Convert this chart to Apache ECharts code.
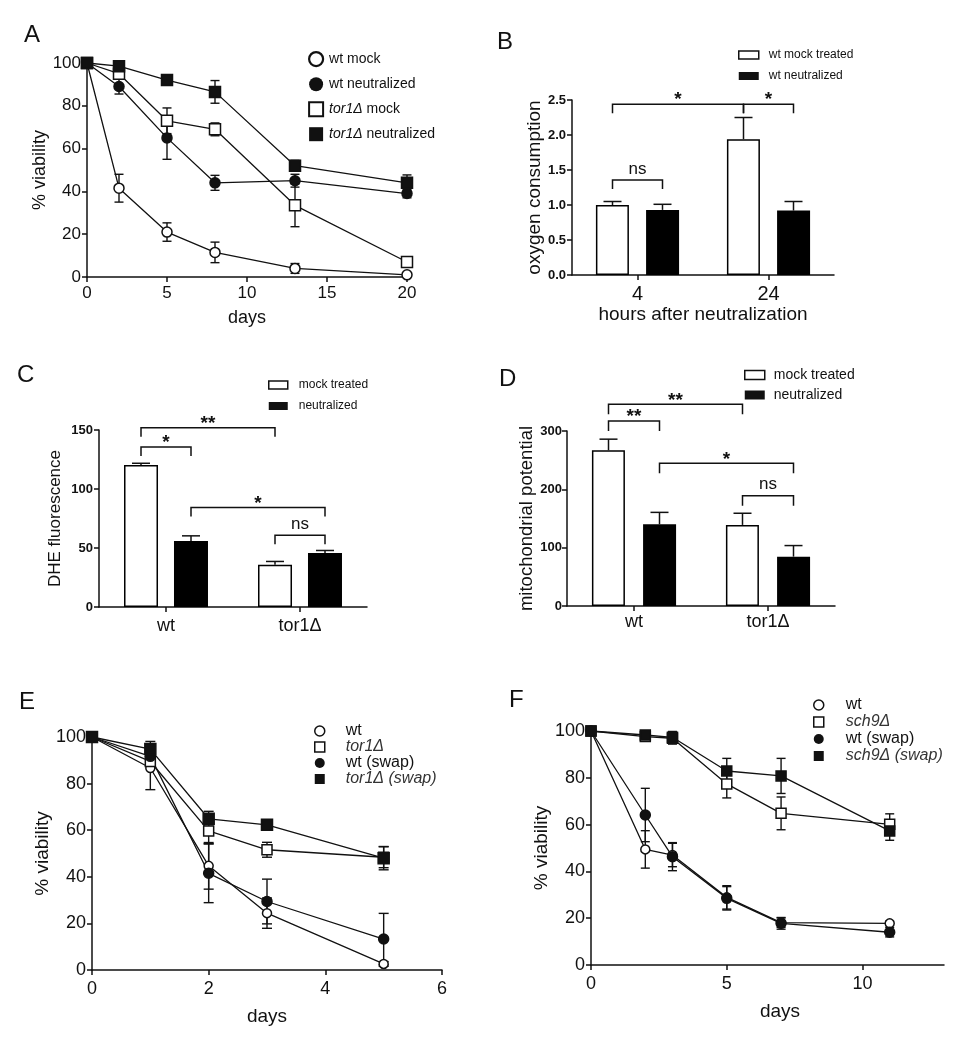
<!DOCTYPE html>
<html><head><meta charset="utf-8">
<script src="https://cdn.jsdelivr.net/npm/echarts@6/dist/echarts.min.js"></script>
<style>html,body{margin:0;padding:0;background:#fff}#c{width:964px;height:1050px}</style>
</head><body><div id="c"></div>
<script>
// ---------- Panel A ----------
const aDays = [0, 2, 5, 8, 13, 20];
const aWtMock = [100, 41.5, 21, 11.5, 4, 1];
const aWtMockErr = [0, 6.5, 4.3, 4.8, 2.3, 0.5];
const aWtNeut = [100, 89, 65, 44, 45, 39];
const aWtNeutErr = [0, 3.5, 10, 3.5, 3, 2];
const aTorMock = [100, 95, 73, 69, 33.5, 7];
const aTorMockErr = [0, 2.5, 6, 3, 10, 1.5];
const aTorNeut = [100, 98.5, 92, 86.5, 52, 44];
const aTorNeutErr = [0, 1, 1, 5.3, 2.5, 3.7];
// ---------- Panel B ----------
const bCats = ['4', '24'];
const bMock = [1.0, 1.94];
const bMockErr = [0.05, 0.31];
const bNeut = [0.93, 0.92];
const bNeutErr = [0.08, 0.13];
const bBrackets = [
  {a: [0, -1], b: [1, -1], y: 2.44, t: '*'},
  {a: [1, -1], b: [1, 1], y: 2.44, t: '*'},
  {a: [0, -1], b: [0, 1], y: 1.357, t: 'ns'}
];
// ---------- Panel C ----------
const cCats = ['wt', 'tor1Δ'];
const cMock = [120.4, 35.8];
const cMockErr = [1.4, 2.8];
const cNeut = [56, 45.7];
const cNeutErr = [4.3, 2.2];
const cBrackets = [
  {a: [0, -1], b: [1, -1], y: 152, t: '**'},
  {a: [0, -1], b: [0, 1], y: 135.6, t: '*'},
  {a: [0, 1], b: [1, 1], y: 84.3, t: '*'},
  {a: [1, -1], b: [1, 1], y: 60.9, t: 'ns'}
];
// ---------- Panel D ----------
const dCats = ['wt', 'tor1Δ'];
const dMock = [267, 139];
const dMockErr = [19, 20];
const dNeut = [140, 84.6];
const dNeutErr = [20.5, 19];
const dBrackets = [
  {a: [0, -1], b: [1, -1], y: 345.7, t: '**'},
  {a: [0, -1], b: [0, 1], y: 317, t: '**'},
  {a: [0, 1], b: [1, 1], y: 244.6, t: '*'},
  {a: [1, -1], b: [1, 1], y: 189, t: 'ns'}
];
// ---------- Panel E ----------
const eDays = [0, 1, 2, 3, 5];
const eWt = [100, 86.7, 44.7, 24.4, 2.6];
const eWtErr = [0, 9.3, 10, 6.5, 1];
const eTor = [100, 89.5, 59.7, 51.6, 48.4];
const eTorErr = [0, 2, 5.5, 3.2, 4.5];
const eWtSwap = [100, 91.7, 41.5, 29.4, 13.3];
const eWtSwapErr = [0, 3, 12.6, 9.6, 11];
const eTorSwap = [100, 94.8, 64.9, 62.3, 48];
const eTorSwapErr = [0, 3.3, 3.2, 2, 5];
// ---------- Panel F ----------
const fDays = [0, 2, 3, 5, 7, 11];
const fWt = [100, 49.4, 47, 28.9, 18.1, 17.8];
const fWtErr = [0, 8, 5, 5, 2, 1];
const fSch = [100, 97.6, 96.9, 77.4, 64.8, 60.1];
const fSchErr = [0, 2, 2.5, 6, 7, 4.5];
const fWtSwap = [100, 64.1, 46.3, 28.5, 17.8, 14];
const fWtSwapErr = [0, 11.4, 6, 5, 2.5, 2];
const fSchSwap = [100, 98.3, 97.3, 82.9, 80.8, 57.3];
const fSchSwapErr = [0, 1.5, 2.5, 5.4, 7.5, 4];

const FONT = '"Liberation Sans", Arial, Helvetica, sans-serif';
const INK = '#111';

function axis(o) {
  const ax = {
    type: o.type || 'value', gridIndex: o.grid,
    axisLine: {show: true, onZero: false, lineStyle: {color: INK, width: 1.5}},
    axisTick: {show: true, length: 5, lineStyle: {color: INK, width: 1.5}},
    splitLine: {show: false},
    axisLabel: {color: INK, fontFamily: FONT, fontSize: o.ls || 17, fontWeight: o.lb ? 'bold' : 'normal', margin: o.lm == null ? 6 : o.lm},
    nameLocation: 'middle', name: o.name || '', nameGap: o.ng || 30,
    nameTextStyle: {color: INK, fontFamily: FONT, fontSize: o.ns || 18, padding: o.np || 0}
  };
  if (ax.type === 'value') { ax.min = o.min; ax.max = o.max; ax.interval = o.interval; }
  else { ax.data = o.data; ax.boundaryGap = true; ax.axisTick.alignWithLabel = true; }
  if (o.fmt) ax.axisLabel.formatter = o.fmt;
  if (o.cv) { ax.axisLabel.customValues = o.cv; ax.axisTick.customValues = o.cv; }
  return ax;
}

function lineSeries(g, name, xs, ys, sym, filled, size) {
  return {type: 'line', name, xAxisIndex: g, yAxisIndex: g,
    data: xs.map((x, i) => [x, ys[i]]), symbol: sym, symbolSize: size,
    showSymbol: true, showAllSymbol: true,
    lineStyle: {color: INK, width: 1.3},
    itemStyle: {color: filled ? INK : '#fff', borderColor: INK, borderWidth: 1.5},
    emphasis: {disabled: true}, z: 3, animation: false, silent: true};
}

function errSeries(g, xs, ys, es, cap) {
  const pts = [];
  xs.forEach((x, i) => { if (es[i] > 0) pts.push([x, ys[i] - es[i], ys[i] + es[i]]); });
  return {type: 'custom', xAxisIndex: g, yAxisIndex: g, data: pts,
    encode: {x: 0, y: [1, 2]}, z: 2, silent: true, animation: false,
    renderItem(params, api) {
      const x = api.value(0);
      const lo = api.coord([x, api.value(1)]);
      const hi = api.coord([x, api.value(2)]);
      const h = cap / 2, st = {stroke: INK, lineWidth: 1.4};
      return {type: 'group', children: [
        {type: 'line', shape: {x1: lo[0], y1: lo[1], x2: hi[0], y2: hi[1]}, style: st},
        {type: 'line', shape: {x1: lo[0] - h, y1: lo[1], x2: lo[0] + h, y2: lo[1]}, style: st},
        {type: 'line', shape: {x1: hi[0] - h, y1: hi[1], x2: hi[0] + h, y2: hi[1]}, style: st}
      ]};
    }};
}

function barSeries(g, name, vals, filled, bw, gap) {
  return {type: 'bar', name, xAxisIndex: g, yAxisIndex: g, data: vals,
    barWidth: bw, barGap: gap,
    itemStyle: {color: filled ? '#000' : '#fff', borderColor: '#000', borderWidth: filled ? 0 : 1.5},
    z: 2, animation: false, silent: true, emphasis: {disabled: true}};
}

function barErr(g, vals, errs, side, off, cap) {
  return {type: 'custom', xAxisIndex: g, yAxisIndex: g,
    data: vals.map((v, i) => [i, v, v + errs[i]]),
    encode: {x: 0, y: [1, 2]}, z: 3, silent: true, animation: false,
    renderItem(params, api) {
      const lo = api.coord([api.value(0), api.value(1)]);
      const hi = api.coord([api.value(0), api.value(2)]);
      const x = lo[0] + side * off, h = cap / 2, st = {stroke: INK, lineWidth: 1.5};
      return {type: 'group', children: [
        {type: 'line', shape: {x1: x, y1: lo[1], x2: x, y2: hi[1]}, style: st},
        {type: 'line', shape: {x1: x - h, y1: hi[1], x2: x + h, y2: hi[1]}, style: st}
      ]};
    }};
}

function brackets(g, list, off, leg) {
  return {type: 'custom', xAxisIndex: g, yAxisIndex: g,
    data: list.map(b => [b.a[0], b.b[0], b.y]),
    encode: {x: [0, 1], y: 2}, z: 4, silent: true, animation: false, clip: false,
    renderItem(params, api) {
      const b = list[params.dataIndex];
      const p1 = api.coord([b.a[0], b.y]);
      const p2 = api.coord([b.b[0], b.y]);
      const x1 = p1[0] + b.a[1] * off, x2 = p2[0] + b.b[1] * off, y = p1[1];
      const star = b.t.indexOf('*') >= 0;
      return {type: 'group', children: [
        {type: 'polyline', shape: {points: [[x1, y + leg], [x1, y], [x2, y], [x2, y + leg]]},
          style: {stroke: INK, lineWidth: 1.5, fill: null}},
        {type: 'text', style: {text: b.t, x: (x1 + x2) / 2, y: y - (star ? 4 : 11),
          align: 'center', verticalAlign: 'middle', fontSize: star ? 19 : 17,
          fontWeight: star ? 'bold' : 'normal',
          fontFamily: FONT, fill: INK}}
      ]};
    }};
}

function legend(o) {
  return {show: true, orient: 'vertical', left: o.left, top: o.top, padding: 0,
    itemWidth: o.iw, itemHeight: o.ih, itemGap: o.gap,
    selectedMode: false,
    textStyle: {color: INK, fontFamily: FONT, fontSize: o.fs, lineHeight: o.lh,
      padding: [0, 0, 0, o.tg - 5],
      rich: {i: {fontStyle: 'italic', fontFamily: FONT, fontSize: o.fs, color: o.ic || INK, lineHeight: o.lh}}},
    formatter: o.fmt, data: o.data};
}
const OPEN = {color: '#fff', borderColor: INK, borderWidth: 1.5};
const FILL = {color: INK, borderColor: INK, borderWidth: 0};

const T = (text, left, top) => ({text, left, top, padding: 0,
  textStyle: {fontFamily: FONT, fontSize: 24, fontWeight: 'normal', color: INK}});

const option = {
  backgroundColor: '#fff',
  animation: false,
  title: [T('A', 24, 23), T('B', 497, 30), T('C', 17, 363), T('D', 499, 367), T('E', 19, 690), T('F', 509, 688)],
  grid: [
    {left: 87, top: 63, width: 320, height: 214, outerBoundsMode: 'none'},
    {left: 572, top: 100, width: 262, height: 175, outerBoundsMode: 'none'},
    {left: 99, top: 430, width: 268, height: 177, outerBoundsMode: 'none'},
    {left: 567, top: 431, width: 268, height: 175, outerBoundsMode: 'none'},
    {left: 92, top: 737, width: 350, height: 233, outerBoundsMode: 'none'},
    {left: 591, top: 731, width: 353, height: 234, outerBoundsMode: 'none'}
  ],
  xAxis: [
    axis({grid: 0, min: 0, max: 20, interval: 5, ls: 17, lm: 8, name: 'days', ng: 32, ns: 18}),
    axis({grid: 1, type: 'category', data: bCats, ls: 20, lm: 9, name: 'hours after neutralization', ng: 30, ns: 19}),
    axis({grid: 2, type: 'category', data: cCats, ls: 18, lm: 10}),
    axis({grid: 3, type: 'category', data: dCats, ls: 18, lm: 7}),
    axis({grid: 4, min: 0, max: 6, interval: 2, ls: 18, lm: 10, name: 'days', ng: 37, ns: 19}),
    axis({grid: 5, min: 0, max: 13, interval: 5, cv: [0, 5, 10], ls: 18, lm: 10, name: 'days', ng: 37, ns: 19, np: [0, 0, 0, 25]})
  ],
  yAxis: [
    axis({grid: 0, min: 0, max: 100, interval: 20, ls: 17, lm: 6, name: '% viability', ng: 35, ns: 18}),
    axis({grid: 1, min: 0, max: 2.5, interval: 0.5, ls: 13, lb: true, lm: 6, fmt: v => v.toFixed(1), name: 'oxygen consumption', ng: 25, ns: 19}),
    axis({grid: 2, min: 0, max: 150, interval: 50, ls: 13, lb: true, lm: 6, name: 'DHE fluorescence', ng: 35, ns: 17}),
    axis({grid: 3, min: 0, max: 300, interval: 100, ls: 13, lb: true, lm: 5, name: 'mitochondrial potential', ng: 23, ns: 18.5}),
    axis({grid: 4, min: 0, max: 100, interval: 20, ls: 18, lm: 6, name: '% viability', ng: 37, ns: 19}),
    axis({grid: 5, min: 0, max: 100, interval: 20, ls: 18, lm: 6, name: '% viability', ng: 34, ns: 19})
  ],
  legend: [
    legend({left: 308, top: 51, iw: 14, ih: 14, gap: 10, tg: 6, fs: 14, lh: 14,
      fmt: n => n.indexOf('tor1Δ') === 0 ? '{i|tor1Δ}' + n.slice(5) : n,
      data: [
        {name: 'wt mock', icon: 'circle', itemStyle: Object.assign({}, OPEN, {borderWidth: 2.2})},
        {name: 'wt neutralized', icon: 'circle', itemStyle: FILL},
        {name: 'tor1Δ mock', icon: 'rect', itemStyle: Object.assign({}, OPEN, {borderWidth: 2})},
        {name: 'tor1Δ neutralized', icon: 'rect', itemStyle: FILL}
      ]}),
    legend({left: 738, top: 49, iw: 20, ih: 8, gap: 9, tg: 10, fs: 12, lh: 12,
      data: [
        {name: 'wt mock treated', icon: 'rect', itemStyle: OPEN},
        {name: 'wt neutralized', icon: 'rect', itemStyle: FILL}
      ]}),
    legend({left: 268, top: 379, iw: 19, ih: 8, gap: 9, tg: 11, fs: 12, lh: 12,
      data: [
        {name: 'mock treated', icon: 'rect', itemStyle: OPEN},
        {name: 'neutralized', icon: 'rect', itemStyle: FILL}
      ]}),
    legend({left: 744, top: 368, iw: 20, ih: 9, gap: 6, tg: 9, fs: 14, lh: 14,
      data: [
        {name: 'mock treated', icon: 'rect', itemStyle: OPEN},
        {name: 'neutralized', icon: 'rect', itemStyle: FILL}
      ]}),
    legend({left: 314, top: 723, iw: 10, ih: 10, gap: 0, tg: 21, fs: 16, lh: 16, ic: '#333',
      fmt: n => n.indexOf('tor1Δ') === 0 ? '{i|' + n + '}' : n,
      data: [
        {name: 'wt', icon: 'circle', itemStyle: OPEN},
        {name: 'tor1Δ', icon: 'rect', itemStyle: OPEN},
        {name: 'wt (swap)', icon: 'circle', itemStyle: FILL},
        {name: 'tor1Δ (swap)', icon: 'rect', itemStyle: FILL}
      ]}),
    legend({left: 813, top: 697, iw: 10, ih: 10, gap: 1, tg: 22, fs: 16, lh: 16, ic: '#333',
      fmt: n => n.indexOf('sch9Δ') === 0 ? '{i|' + n + '}' : n,
      data: [
        {name: 'wt', icon: 'circle', itemStyle: OPEN},
        {name: 'sch9Δ', icon: 'rect', itemStyle: OPEN},
        {name: 'wt (swap)', icon: 'circle', itemStyle: FILL},
        {name: 'sch9Δ (swap)', icon: 'rect', itemStyle: FILL}
      ]})
  ],
  series: [
    // A
    errSeries(0, aDays, aWtMock, aWtMockErr, 9),
    errSeries(0, aDays, aWtNeut, aWtNeutErr, 9),
    errSeries(0, aDays, aTorMock, aTorMockErr, 9),
    errSeries(0, aDays, aTorNeut, aTorNeutErr, 9),
    lineSeries(0, 'wt mock', aDays, aWtMock, 'circle', false, 10),
    lineSeries(0, 'wt neutralized', aDays, aWtNeut, 'circle', true, 10),
    lineSeries(0, 'tor1Δ mock', aDays, aTorMock, 'rect', false, 11),
    lineSeries(0, 'tor1Δ neutralized', aDays, aTorNeut, 'rect', true, 11),
    // B
    barSeries(1, 'wt mock treated', bMock, false, 33, '52%'),
    barSeries(1, 'wt neutralized', bNeut, true, 33, '52%'),
    barErr(1, bMock, bMockErr, -1, 25, 18),
    barErr(1, bNeut, bNeutErr, 1, 25, 18),
    brackets(1, bBrackets, 25, 9),
    // C
    barSeries(2, 'mock treated', cMock, false, 34, '47%'),
    barSeries(2, 'neutralized', cNeut, true, 34, '47%'),
    barErr(2, cMock, cMockErr, -1, 25, 18),
    barErr(2, cNeut, cNeutErr, 1, 25, 18),
    brackets(2, cBrackets, 25, 9),
    // D
    barSeries(3, 'mock treated', dMock, false, 33, '55%'),
    barSeries(3, 'neutralized', dNeut, true, 33, '55%'),
    barErr(3, dMock, dMockErr, -1, 25.5, 18),
    barErr(3, dNeut, dNeutErr, 1, 25.5, 18),
    brackets(3, dBrackets, 25.5, 10),
    // E
    errSeries(4, eDays, eWt, eWtErr, 10),
    errSeries(4, eDays, eTor, eTorErr, 10),
    errSeries(4, eDays, eWtSwap, eWtSwapErr, 10),
    errSeries(4, eDays, eTorSwap, eTorSwapErr, 10),
    lineSeries(4, 'wt', eDays, eWt, 'circle', false, 9),
    lineSeries(4, 'tor1Δ', eDays, eTor, 'rect', false, 10),
    lineSeries(4, 'wt (swap)', eDays, eWtSwap, 'circle', true, 10),
    lineSeries(4, 'tor1Δ (swap)', eDays, eTorSwap, 'rect', true, 11),
    // F
    errSeries(5, fDays, fWt, fWtErr, 9),
    errSeries(5, fDays, fSch, fSchErr, 9),
    errSeries(5, fDays, fWtSwap, fWtSwapErr, 9),
    errSeries(5, fDays, fSchSwap, fSchSwapErr, 9),
    lineSeries(5, 'wt', fDays, fWt, 'circle', false, 9),
    lineSeries(5, 'sch9Δ', fDays, fSch, 'rect', false, 10),
    lineSeries(5, 'wt (swap)', fDays, fWtSwap, 'circle', true, 10),
    lineSeries(5, 'sch9Δ (swap)', fDays, fSchSwap, 'rect', true, 10)
  ]
};

const chart = echarts.init(document.getElementById('c'), null, {renderer: 'canvas', width: 964, height: 1050});
chart.setOption(option);
</script>
</body></html>
